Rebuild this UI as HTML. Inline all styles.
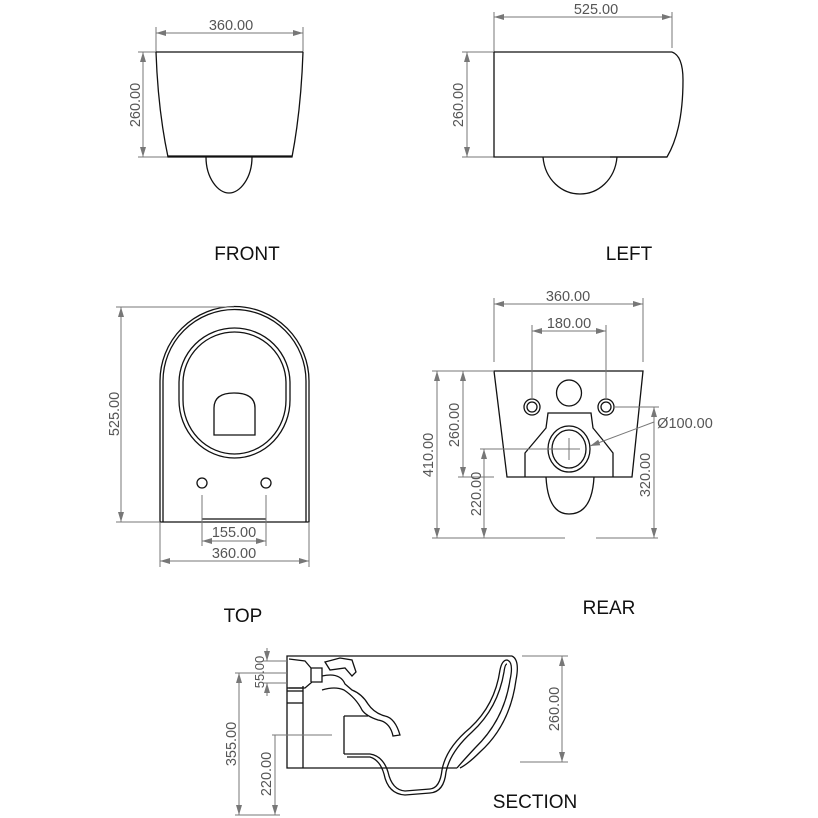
<!DOCTYPE html>
<html><head><meta charset="utf-8"><style>
html,body{margin:0;padding:0;background:#fff}
svg{display:block}
.d{stroke:#777;stroke-width:1;fill:none}
.a{stroke:#777;stroke-width:1;fill:none;marker-start:url(#ar);marker-end:url(#ar)}
.o{stroke:#111;stroke-width:1.3;fill:none}
.t{font-family:"Liberation Sans",sans-serif;font-size:14.5px;fill:#555;text-anchor:middle}
.L{font-family:"Liberation Sans",sans-serif;font-size:19px;fill:#111;text-anchor:middle}
</style></head><body>
<svg width="818" height="818" viewBox="0 0 818 818" xmlns="http://www.w3.org/2000/svg">
<defs><marker id="ar" viewBox="0 0 10 6" refX="10" refY="3" markerWidth="10" markerHeight="6" markerUnits="userSpaceOnUse" orient="auto-start-reverse"><path d="M0,0L10,3L0,6z" fill="#777"/></marker></defs>

<!-- FRONT -->
<line class="a" x1="156" y1="33" x2="303" y2="33"/>
<line class="d" x1="156" y1="27" x2="156" y2="52"/><line class="d" x1="303" y1="27" x2="303" y2="52"/>
<text class="t" x="231" y="30">360.00</text>
<line class="a" x1="143" y1="52" x2="143" y2="157"/>
<line class="d" x1="138" y1="52" x2="156" y2="52"/><line class="d" x1="138" y1="157" x2="168" y2="157"/>
<text class="t" transform="translate(140,105) rotate(-90)">260.00</text>
<line class="o" x1="156" y1="52" x2="303" y2="52" stroke-width="2"/>
<path class="o" d="M156,52 Q158,110 168,157 L292,157 Q301,110 303,52"/>
<line class="o" x1="168" y1="156" x2="292" y2="156"/>
<path class="o" d="M206,157 C206,178 218,193 229,193 C240,193 252,178 252,157"/>
<text class="L" x="247" y="260">FRONT</text>

<!-- LEFT -->
<line class="a" x1="494" y1="17" x2="672" y2="17"/>
<line class="d" x1="494" y1="12" x2="494" y2="52"/><line class="d" x1="672" y1="12" x2="672" y2="48"/>
<text class="t" x="596" y="14">525.00</text>
<line class="a" x1="467" y1="52" x2="467" y2="157"/>
<line class="d" x1="462" y1="52" x2="494" y2="52"/><line class="d" x1="462" y1="157" x2="494" y2="157"/>
<text class="t" transform="translate(463,105) rotate(-90)">260.00</text>
<line class="o" x1="494" y1="52" x2="672" y2="52" stroke-width="2"/>
<path class="o" d="M494,52 L494,157 L667,157 Q683,130 683,80 Q683,56 672,52"/>
<line class="o" x1="610" y1="157" x2="667" y2="157" stroke-width="2.5"/>
<path class="o" d="M543,157 C545,180 562,194 580,194 C598,194 615,180 617,157"/>
<text class="L" x="629" y="260">LEFT</text>

<!-- TOP -->
<path class="o" d="M160,522 L160,381 A74.5,74.5 0 0 1 309,381 L309,522 Z"/>
<path class="o" d="M163,522 L163,381 A71.5,71.5 0 0 1 306,381 L306,522"/>
<path class="o" d="M179,383 A55.5,55 0 0 1 290,383 L290,400 A55.5,58 0 0 1 179,400 Z"/>
<path class="o" d="M183,383 A51.5,51 0 0 1 286,383 L286,400 A51.5,54 0 0 1 183,400 Z"/>
<path class="o" d="M214,435 L214,408 Q214,393 234,393 Q255,393 255,408 L255,435 Z"/>
<circle class="o" cx="202" cy="483" r="5"/><circle class="o" cx="266" cy="483" r="5"/>
<line class="o" x1="202" y1="519" x2="266" y2="519"/>
<line class="a" x1="121" y1="307" x2="121" y2="522"/>
<line class="d" x1="116" y1="307" x2="234" y2="307"/><line class="d" x1="116" y1="522" x2="160" y2="522"/>
<text class="t" transform="translate(119,414) rotate(-90)">525.00</text>
<line class="d" x1="202" y1="495" x2="202" y2="546"/><line class="d" x1="266" y1="495" x2="266" y2="546"/>
<line class="a" x1="202" y1="541" x2="266" y2="541"/>
<text class="t" x="234" y="537">155.00</text>
<line class="d" x1="160" y1="522" x2="160" y2="567"/><line class="d" x1="309" y1="522" x2="309" y2="567"/>
<line class="a" x1="160" y1="561" x2="309" y2="561"/>
<text class="t" x="234" y="558">360.00</text>
<text class="L" x="243" y="622">TOP</text>

<!-- REAR -->
<path class="o" d="M494,371 L643,371 L632,477 L507,477 Z"/>
<circle class="o" cx="532" cy="407" r="8"/><circle class="o" cx="532" cy="407" r="5"/>
<circle class="o" cx="606" cy="407" r="8"/><circle class="o" cx="606" cy="407" r="5"/>
<ellipse class="o" cx="569" cy="393" rx="12.5" ry="13"/>
<path class="o" d="M525,477 L525,453 Q536,440 546,428 L548,413 L591,413 L593,428 Q603,440 613,453 L613,477"/>
<path class="o" d="M546,477 Q548,514 569,514 Q592,514 594,477"/>
<ellipse class="o" cx="569" cy="449" rx="21" ry="23" fill="#fff"/>
<ellipse class="o" cx="569" cy="449" rx="17" ry="19"/>
<line class="d" x1="558" y1="449" x2="580" y2="449"/><line class="d" x1="569" y1="438" x2="569" y2="460"/>
<line class="a" x1="494" y1="304" x2="643" y2="304"/>
<line class="d" x1="494" y1="298" x2="494" y2="362"/><line class="d" x1="643" y1="298" x2="643" y2="362"/>
<text class="t" x="568" y="301">360.00</text>
<line class="a" x1="532" y1="331" x2="606" y2="331"/>
<line class="d" x1="532" y1="325" x2="532" y2="399"/><line class="d" x1="606" y1="325" x2="606" y2="399"/>
<text class="t" x="569" y="328">180.00</text>
<line class="a" x1="437" y1="371" x2="437" y2="538"/>
<line class="d" x1="432" y1="371" x2="494" y2="371"/>
<line class="d" x1="432" y1="538" x2="565" y2="538"/><line class="d" x1="596" y1="538" x2="658" y2="538"/>
<text class="t" transform="translate(433,455) rotate(-90)">410.00</text>
<line class="a" x1="463" y1="371" x2="463" y2="477"/>
<line class="d" x1="458" y1="477" x2="494" y2="477"/>
<text class="t" transform="translate(459,425) rotate(-90)">260.00</text>
<line class="a" x1="484" y1="449" x2="484" y2="538"/>
<line class="d" x1="480" y1="449" x2="569" y2="449"/>
<text class="t" transform="translate(481,494) rotate(-90)">220.00</text>
<line class="a" x1="654" y1="407" x2="654" y2="538"/>
<line class="d" x1="614" y1="407" x2="659" y2="407"/>
<text class="t" transform="translate(650,475) rotate(-90)">320.00</text>
<line class="d" x1="654" y1="422" x2="590" y2="446" marker-end="url(#ar)"/>
<text class="t" x="685" y="428">Ø100.00</text>
<text class="L" x="609" y="614">REAR</text>

<!-- SECTION -->
<path class="o" d="M512,656 L287,656 L287,768 L457,768"/>
<line class="o" x1="303" y1="686" x2="303" y2="768"/>
<line class="o" x1="287" y1="688" x2="303" y2="688"/><line class="o" x1="287" y1="691" x2="303" y2="691"/>
<line class="o" x1="287" y1="703" x2="303" y2="703"/>
<path class="o" d="M289,659 L305,661 L311,668 L322,668 L322,682 L312,682 L305,688 L289,688"/>
<line class="o" x1="311" y1="668" x2="311" y2="682"/>
<path class="o" d="M325,662 L340,658 L352,660 L356,672 L352,676 L345,668 L330,670 Z"/>
<path class="o" d="M322,676 Q340,672 345,684 L352,690 Q362,694 368,704 Q374,713 385,716 Q395,718 400,735 L393,736 Q390,722 378,720 Q366,716 362,710 Q356,698 344,690 Q335,686 322,690"/>
<path class="o" d="M344,716 L368,716"/><path class="o" d="M344,716 L344,754"/>
<path class="o" d="M344,754 L370,754 Q383,756 388,772 Q392,790 405,791 L430,789 Q440,788 442,770 Q446,748 470,728 Q495,705 500,670 Q502,660 507,660 Q514,662 510,680 Q504,720 475,748 Q462,762 457,768"/>
<path class="o" d="M347,757 L370,757 Q380,760 384,774 Q388,794 405,795 L430,793 Q444,792 446,772 Q450,752 472,732 Q498,708 504,672 Q505,664 507,664"/>
<path class="o" d="M512,656 Q520,660 516,680 Q510,725 480,752 Q468,764 460,768"/>
<line class="d" x1="263" y1="661" x2="287" y2="661"/><line class="d" x1="235" y1="673" x2="287" y2="673"/>
<line class="d" x1="263" y1="683" x2="287" y2="683"/>
<line class="d" x1="267" y1="648" x2="267" y2="661" marker-end="url(#ar)"/>
<line class="d" x1="267" y1="696" x2="267" y2="683" marker-end="url(#ar)"/>
<text class="t" transform="translate(264,672) rotate(-90)" style="font-size:13px">55.00</text>
<line class="a" x1="239" y1="673" x2="239" y2="815"/>
<line class="d" x1="235" y1="815" x2="280" y2="815"/>
<text class="t" transform="translate(236,744) rotate(-90)">355.00</text>
<line class="d" x1="275" y1="735" x2="275" y2="815" marker-end="url(#ar)"/>
<line class="d" x1="272" y1="735" x2="332" y2="735"/>
<text class="t" transform="translate(271,774) rotate(-90)">220.00</text>
<line class="a" x1="562" y1="656" x2="562" y2="762"/>
<line class="d" x1="522" y1="656" x2="568" y2="656"/><line class="d" x1="520" y1="762" x2="568" y2="762"/>
<text class="t" transform="translate(559,709) rotate(-90)">260.00</text>
<text class="L" x="535" y="808">SECTION</text>
</svg>
</body></html>
